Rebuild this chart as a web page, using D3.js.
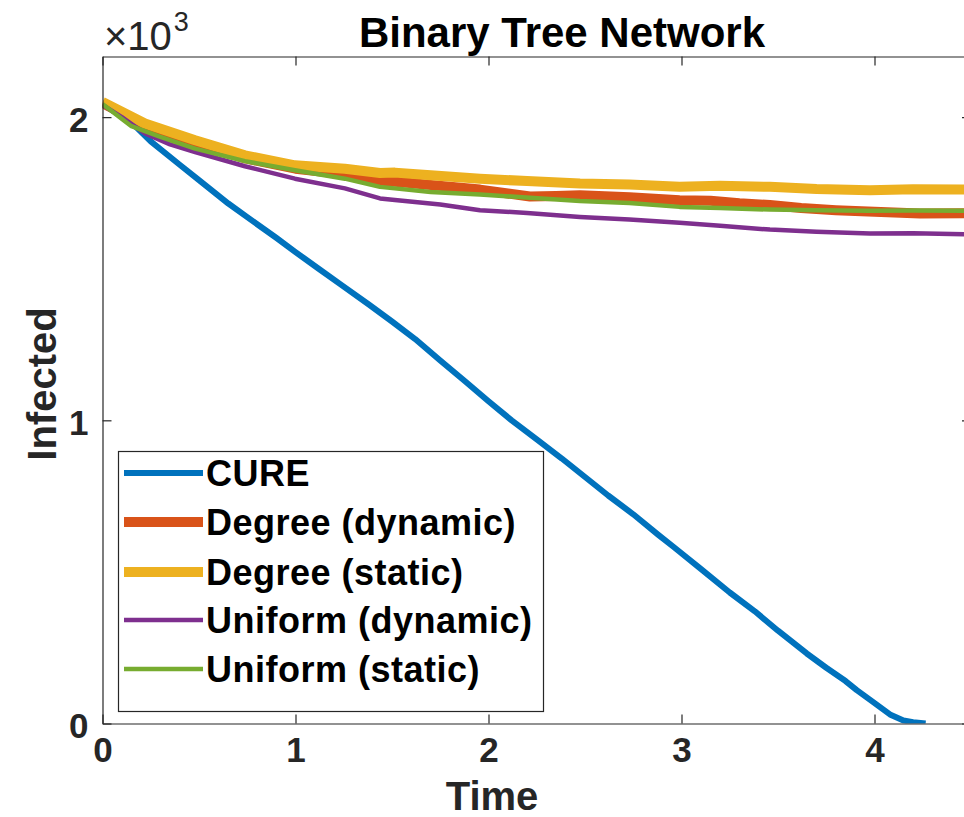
<!DOCTYPE html>
<html>
<head>
<meta charset="utf-8">
<script src="https://cdn.jsdelivr.net/npm/d3@7"></script>
<style>
  body { margin: 0; background: #fff; overflow: hidden; }
  svg { display: block; font-family: "Liberation Sans", Arial, Helvetica, sans-serif; }
</style>
</head>
<body>
<div id="graph"></div>
<script>
// series: [time, infected]
var cure = [[0,2042],[0.13,1995],[0.25,1920],[0.4,1843],[0.5,1792],[0.652,1715],[0.75,1670],[0.9,1602],[1.0,1555],[1.12,1500],[1.239,1446],[1.38,1382],[1.5,1326],[1.62,1268],[1.75,1197],[1.88,1128],[2.0,1063],[2.12,1000],[2.25,937],[2.38,874],[2.5,813],[2.62,752],[2.75,690],[2.88,622],[2.958,583],[3.1,510],[3.25,432],[3.38,370],[3.5,306],[3.649,231],[3.75,184],[3.85,140],[3.908,110],[3.99,72],[4.08,30],[4.15,10],[4.2,4],[4.265,0]]
var degreeDyn = [[0,2046],[0.22,1975],[0.48,1916],[0.74,1864],[1.0,1830],[1.25,1812],[1.438,1790],[1.55,1785],[1.7,1776],[1.956,1761],[2.1,1748],[2.215,1738],[2.35,1740],[2.474,1742],[2.73,1736],[2.99,1726],[3.15,1724],[3.3,1716],[3.458,1710],[3.62,1700],[3.8,1693],[4.0,1688],[4.236,1682],[4.5,1683]]
var degreeSta = [[0,2050],[0.22,1979],[0.48,1924],[0.738,1874],[0.997,1841],[1.256,1830],[1.438,1816],[1.515,1817],[1.7,1808],[1.956,1797],[2.2,1789],[2.474,1781],[2.73,1778],[2.99,1770],[3.2,1774],[3.458,1770],[3.7,1763],[3.977,1759],[4.2,1762],[4.46,1761],[4.5,1762]]
var uniformDyn = [[0,2040],[0.1,2000],[0.22,1946],[0.35,1910],[0.48,1885],[0.738,1838],[0.997,1797],[1.256,1765],[1.438,1732],[1.515,1727],[1.75,1712],[1.956,1693],[2.2,1684],[2.474,1671],[2.73,1662],[2.99,1652],[3.2,1642],[3.458,1629],[3.7,1622],[3.977,1616],[4.2,1617],[4.5,1613]]
var uniformSta = [[0,2043],[0.15,1970],[0.3,1935],[0.48,1896],[0.738,1855],[0.997,1825],[1.256,1797],[1.438,1770],[1.515,1765],[1.7,1753],[1.956,1745],[2.215,1734],[2.474,1723],[2.73,1717],[2.99,1704],[3.2,1700],[3.458,1695],[3.7,1693],[3.977,1691],[4.2,1692],[4.5,1691]]

var seriesNames  = ['CURE', 'Degree (dynamic)', 'Degree (static)', 'Uniform (dynamic)', 'Uniform (static)']
var seriesData   = [cure, degreeDyn, degreeSta, uniformDyn, uniformSta]
var seriesColors = ['#0072BD', '#D95319', '#EDB120', '#7E2F8E', '#77AC30']
var seriesWidths = [6, 10, 10, 4.5, 4.5]

var xTicks = [0, 1, 2, 3, 4]
var yTicks = [0, 1000, 2000]
var yTickLabels = ['0', '1', '2']

var width = 964, height = 817
var margin = {top: 56.5, left: 102.5, right: -7, bottom: 93.5}   // right edge of axes is cropped off in the original

var svg = d3.select("#graph").append("svg")
            .attr("width", width).attr("height", height)

var x = d3.scaleLinear().domain([0, 4.5]).range([margin.left, width - margin.right])
var y = d3.scaleLinear().domain([0, 2200]).range([height - margin.bottom, margin.top])

var axisColor = '#262626'

// clip for lines
svg.append("clipPath").attr("id", "plotclip")
   .append("rect")
   .attr("x", x(0)).attr("y", y(2200))
   .attr("width", x(4.5) - x(0)).attr("height", y(0) - y(2200))

var line = d3.line()
             .x(function(d) { return x(d[0]) })
             .y(function(d) { return y(d[1]) })

var lines = svg.append("g").attr("clip-path", "url(#plotclip)")
lines.selectAll("path")
     .data(seriesData)
     .enter()
     .append("path")
     .attr("d", line)
     .attr("fill", "none")
     .attr("stroke", function(d, i) { return seriesColors[i] })
     .attr("stroke-width", function(d, i) { return seriesWidths[i] })
     .attr("stroke-linejoin", "round")

// axes, MATLAB box style with inward ticks
var tickLen = 9
var bottomAxis = d3.axisBottom(x).tickValues(xTicks).tickSizeInner(-tickLen).tickSizeOuter(0).tickPadding(14).tickFormat(d3.format("d"))
var topAxis    = d3.axisTop(x).tickValues(xTicks).tickSizeInner(-tickLen).tickSizeOuter(0).tickFormat("")
var leftAxis   = d3.axisLeft(y).tickValues(yTicks).tickSizeInner(-tickLen).tickSizeOuter(0).tickPadding(14)
                   .tickFormat(function(d, i) { return yTickLabels[i] })
var rightAxis  = d3.axisRight(y).tickValues(yTicks).tickSizeInner(-tickLen).tickSizeOuter(0).tickFormat("")

var gb = svg.append("g").attr("transform", "translate(0," + y(0) + ")").call(bottomAxis)
var gt = svg.append("g").attr("transform", "translate(0," + y(2200) + ")").call(topAxis)
var gl = svg.append("g").attr("transform", "translate(" + x(0) + ",0)").call(leftAxis)
var gr = svg.append("g").attr("transform", "translate(" + x(4.5) + ",0)").call(rightAxis)

;[gb, gt, gl, gr].forEach(function(g) {
    g.selectAll("path").attr("stroke", axisColor).attr("stroke-width", 1.2)
    g.selectAll("line").attr("stroke", axisColor).attr("stroke-width", 1.2)
    g.selectAll("text").attr("fill", axisColor)
     .style("font-size", "35px").style("font-weight", "bold")
     .style("font-family", "'Liberation Sans', Arial, sans-serif")
})
gb.selectAll("text").attr("dy", "0.71em")
gl.selectAll("text").attr("dy", "0.40em")

// exponent label
var expo = svg.append("text").attr("x", 104).attr("y", 50)
              .attr("fill", axisColor).style("font-size", "40px")
expo.append("tspan").text("\u00d710")
expo.append("tspan").attr("dy", -19).attr("dx", 2).style("font-size", "27px").text("3")

// title & labels
svg.append("text").attr("x", 562).attr("y", 47).attr("text-anchor", "middle")
   .style("font-size", "42px").style("font-weight", "bold").attr("fill", "#000")
   .text("Binary Tree Network")

svg.append("text").attr("x", 492).attr("y", 810).attr("text-anchor", "middle")
   .style("font-size", "40px").style("font-weight", "bold").attr("fill", axisColor)
   .text("Time")

svg.append("text").attr("transform", "translate(56,384) rotate(-90)").attr("text-anchor", "middle")
   .style("font-size", "40px").style("font-weight", "bold").attr("fill", axisColor)
   .text("Infected")

// legend
var legend = svg.append("g")
legend.append("rect")
      .attr("x", 118.5).attr("y", 451.5).attr("width", 425).attr("height", 260)
      .attr("fill", "#fff").attr("stroke", axisColor).attr("stroke-width", 1.2)

var rowY = [473, 522, 572, 620, 669]
var item = legend.selectAll(".item")
                 .data(seriesNames)
                 .enter()
                 .append("g").classed("item", true)
                 .attr("transform", function(d, i) { return "translate(0," + rowY[i] + ")" })
item.append("line")
    .attr("x1", 124).attr("x2", 203)
    .attr("stroke", function(d, i) { return seriesColors[i] })
    .attr("stroke-width", function(d, i) { return seriesWidths[i] })
item.append("text")
    .attr("x", 206).attr("y", 13)
    .style("font-size", "36px").style("font-weight", "bold").style("letter-spacing", "0.5px").attr("fill", "#000")
    .text(function(d) { return d })
</script>
</body>
</html>
